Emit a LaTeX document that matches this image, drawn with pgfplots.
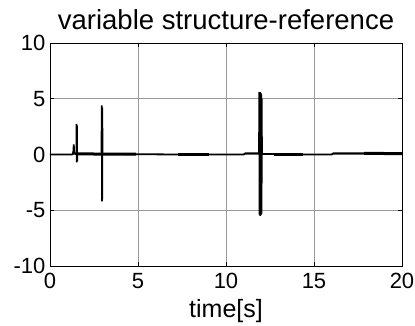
\documentclass[border=0pt]{standalone}
\usepackage{fontspec}
\setmainfont{Liberation Sans}
\usepackage{pgfplots}
\pgfplotsset{compat=1.18}
\begin{document}
\begin{tikzpicture}
\begin{axis}[name=ax,
  scale only axis, width=352pt, height=223pt,
  xmin=0, xmax=20, ymin=-10, ymax=10,
  xtick={0,5,10,15,20}, ytick={-10,-5,0,5,10},
  tick align=inside, major tick length=4pt,
  grid=major, grid style={gray!80, line width=0.7pt},
  axis line style={black, line width=0.8pt},
  tick style={black, line width=0.6pt},
  /pgf/number format/assume math mode=true,
  ticklabel style={font=\fontsize{22}{26}\selectfont},
  xticklabel style={yshift=-4pt},
  yticklabel style={xshift=-1pt},
  xlabel={time[s]}, xlabel style={font=\fontsize{25}{29}\selectfont, yshift=-3pt},
  title={variable structure-reference}, title style={font=\fontsize{27.5}{32}\selectfont, yshift=4pt},
]
\addplot[black, line width=1.8pt] coordinates {
(0,0) (1.25,0) (1.3,0.05) (1.33,0.3) (1.35,0.9) (1.37,0.2) (1.4,0.1) (1.45,0.05) (1.5,0.05)
(1.51,2.75) (1.52,-0.7) (1.53,2.6) (1.54,-0.6) (1.55,0.05)
(2.93,0.05) (2.94,4.4) (2.96,-4.2) (2.97,4.2) (2.98,0.05)
(7.2,0) (11.0,0) (11.1,0.1) (11.85,0.1)
(11.88,0.1) (11.89,5.6) (11.91,-5.4) (11.93,5.6) (11.95,-5.5) (11.97,5.5) (11.99,-5.4)
(12.0,5.4) (12.02,-5.3) (12.03,5.0) (12.04,0.05)
(12.6,0.05) (14.5,0)
(16.0,0) (16.1,0.1) (17.8,0.1) (20,0.08)
};
% noisy stretches, drawn as a thicker band
\addplot[black, line width=3pt] coordinates {(1.6,0.05) (4.9,0.03)};
\addplot[black, line width=3pt] coordinates {(7.25,0.04) (9.05,0.04)};
\addplot[black, line width=3pt] coordinates {(12.7,0.04) (14.4,0.04)};
\addplot[black, line width=3pt] coordinates {(17.85,0.1) (20,0.08)};
\end{axis}
\pgfresetboundingbox
\path ([shift={(-50pt,-60pt)}]ax.south west) rectangle ([shift={(13pt,43pt)}]ax.north east);
\end{tikzpicture}
\end{document}
